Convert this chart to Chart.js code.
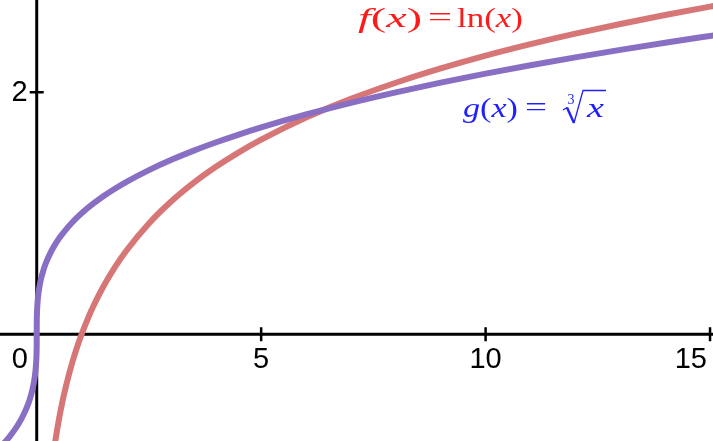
<!DOCTYPE html>
<html><head><meta charset="utf-8">
<script src="https://cdn.jsdelivr.net/npm/chart.js@4"></script>
<style>html,body{margin:0;padding:0;background:#fff}#wrap{width:713px;height:441px;position:relative}</style>
</head><body><div id="wrap"><canvas id="c"></canvas></div>
<script>
// f(x) = ln(x)
const lnX = [0.4, 0.45, 0.5, 0.55, 0.6, 0.7, 0.8, 0.9, 1, 1.1, 1.25, 1.5, 1.75, 2, 2.5, 3, 3.5, 4, 4.5, 5, 6, 7, 8, 9, 10, 11, 12, 13, 14, 15, 15.2];
const lnY = [-0.916, -0.799, -0.693, -0.598, -0.511, -0.357, -0.223, -0.105, 0, 0.095, 0.223, 0.405, 0.560, 0.693, 0.916, 1.099, 1.253, 1.386, 1.504, 1.609, 1.792, 1.946, 2.079, 2.197, 2.303, 2.398, 2.485, 2.565, 2.639, 2.708, 2.721];
// g(x) = cube root of x
const cbrtX = [-0.85, -0.7, -0.6, -0.5, -0.4, -0.3, -0.2, -0.15, -0.1, -0.07, -0.05, -0.03, -0.02, -0.01, -0.005, -0.002, -0.0005, 0, 0.0005, 0.002, 0.005, 0.01, 0.02, 0.03, 0.05, 0.07, 0.1, 0.15, 0.2, 0.3, 0.4, 0.5, 0.6, 0.8, 1, 1.25, 1.5, 1.75, 2, 2.5, 3, 3.5, 4, 4.5, 5, 6, 7, 8, 9, 10, 11, 12, 13, 14, 15, 15.2];
const cbrtY = [-0.947, -0.888, -0.843, -0.794, -0.737, -0.669, -0.585, -0.531, -0.464, -0.412, -0.368, -0.311, -0.271, -0.215, -0.171, -0.126, -0.079, 0, 0.079, 0.126, 0.171, 0.215, 0.271, 0.311, 0.368, 0.412, 0.464, 0.531, 0.585, 0.669, 0.737, 0.794, 0.843, 0.928, 1.000, 1.077, 1.145, 1.205, 1.260, 1.357, 1.442, 1.518, 1.587, 1.651, 1.710, 1.817, 1.913, 2.000, 2.080, 2.154, 2.224, 2.289, 2.351, 2.410, 2.466, 2.477];
const xTicks = [5, 10, 15];
const xTickLabels = ['5', '10', '15'];
const yTicks = [2];
const yTickLabels = ['2'];
const originLabel = '0';

const RED = 'rgb(214,118,118)';
const PURPLE = 'rgb(137,111,196)';

function drawRuns(ctx, runs, x, baseline, targetW, size, color) {
  let total = 0;
  const ws = runs.map(r => {
    ctx.font = (r[1] ? 'italic ' : '') + size + 'px "Liberation Serif"';
    const w = ctx.measureText(r[0]).width; total += w; return w;
  });
  const s = targetW / total;
  ctx.save();
  ctx.translate(x, baseline);
  ctx.scale(s, 1);
  ctx.fillStyle = color;
  ctx.textBaseline = 'alphabetic';
  ctx.textAlign = 'left';
  let cx = 0;
  runs.forEach((r, i) => {
    ctx.font = (r[1] ? 'italic ' : '') + size + 'px "Liberation Serif"';
    ctx.fillText(r[0], cx, 0);
    cx += ws[i];
  });
  ctx.restore();
}

const axesPlugin = {
  id: 'axesAtZero',
  beforeDatasetsDraw(chart) {
    const ctx = chart.ctx, xs = chart.scales.x, ys = chart.scales.y;
    const x0 = xs.getPixelForValue(0), y0 = ys.getPixelForValue(0);
    const a = chart.chartArea;
    ctx.save();
    ctx.strokeStyle = '#000';
    ctx.lineWidth = 3;
    ctx.beginPath();
    ctx.moveTo(a.left, y0); ctx.lineTo(a.right, y0);
    ctx.moveTo(x0, a.top); ctx.lineTo(x0, a.bottom);
    ctx.stroke();
    ctx.lineWidth = 2.5;
    ctx.beginPath();
    xTicks.forEach(v => { const p = xs.getPixelForValue(v); ctx.moveTo(p, y0 - 7); ctx.lineTo(p, y0 + 7); });
    yTicks.forEach(v => { const p = ys.getPixelForValue(v); ctx.moveTo(x0 - 7, p); ctx.lineTo(x0 + 7, p); });
    ctx.stroke();
    ctx.fillStyle = '#000';
    ctx.font = '29px "Liberation Sans"';
    ctx.textBaseline = 'alphabetic';
    xTicks.forEach((v, i) => {
      let p = xs.getPixelForValue(v);
      const w = ctx.measureText(xTickLabels[i]).width;
      if (p + w / 2 > a.right - 6) p = a.right - 6 - w / 2;
      ctx.textAlign = 'center';
      ctx.fillText(xTickLabels[i], p, y0 + 34);
    });
    ctx.textAlign = 'right';
    yTicks.forEach((v, i) => {
      ctx.fillText(yTickLabels[i], x0 - 9, ys.getPixelForValue(v) + 9);
    });
    ctx.textAlign = 'center';
    ctx.fillText(originLabel, x0 - 17, y0 + 34);
    ctx.restore();
  },
  afterDatasetsDraw(chart) {
    const ctx = chart.ctx;
    // f(x) = ln(x)
    const R = '#ff1a1a';
    drawRuns(ctx, [['f', true], ['(', false], ['x', true], [')', false]], 358, 27, 64, 28, R);
    drawRuns(ctx, [['=', false]], 428, 26, 24, 28, R);
    drawRuns(ctx, [['ln(', false], ['x', true], [')', false]], 457, 27, 66, 28, R);
    // g(x) = cbrt(x)
    const B = '#1f1fff';
    drawRuns(ctx, [['g', true], ['(', false], ['x', true], [')', false]], 463, 117, 55, 28, B);
    drawRuns(ctx, [['=', false]], 525, 116, 22, 28, B);
    drawRuns(ctx, [['3', false]], 567.5, 104, 7, 14, B);
    ctx.save();
    ctx.strokeStyle = B; ctx.fillStyle = B;
    ctx.lineJoin = 'miter';
    ctx.lineWidth = 1.3;
    ctx.beginPath();
    ctx.moveTo(563, 110); ctx.lineTo(567, 107.5);
    ctx.stroke();
    ctx.lineWidth = 2.4;
    ctx.beginPath();
    ctx.moveTo(567, 107.5); ctx.lineTo(574, 123);
    ctx.stroke();
    ctx.lineWidth = 1.3;
    ctx.beginPath();
    ctx.moveTo(574, 123); ctx.lineTo(583, 90.5); ctx.lineTo(606, 90.5);
    ctx.stroke();
    ctx.restore();
    drawRuns(ctx, [['x', true]], 587, 117, 17, 28, B);
  }
};

new Chart(document.getElementById('c'), {
  type: 'line',
  data: {
    datasets: [
      { label: 'g(x)', data: cbrtX.map((x, i) => ({ x, y: cbrtY[i] })), borderColor: PURPLE, borderWidth: 6, pointRadius: 0, fill: false, cubicInterpolationMode: 'monotone' },
      { label: 'f(x)', data: lnX.map((x, i) => ({ x, y: lnY[i] })), borderColor: RED, borderWidth: 6, pointRadius: 0, fill: false, cubicInterpolationMode: 'monotone' }
    ]
  },
  options: {
    responsive: true,
    maintainAspectRatio: false,
    animation: false,
    layout: { padding: 0 },
    plugins: { legend: { display: false }, tooltip: { enabled: false }, title: { display: false } },
    events: [],
    scales: {
      x: { type: 'linear', min: -0.818, max: 15.066, display: false },
      y: { type: 'linear', min: -0.882, max: 2.763, display: false }
    }
  },
  plugins: [axesPlugin]
});
</script>
</body></html>
